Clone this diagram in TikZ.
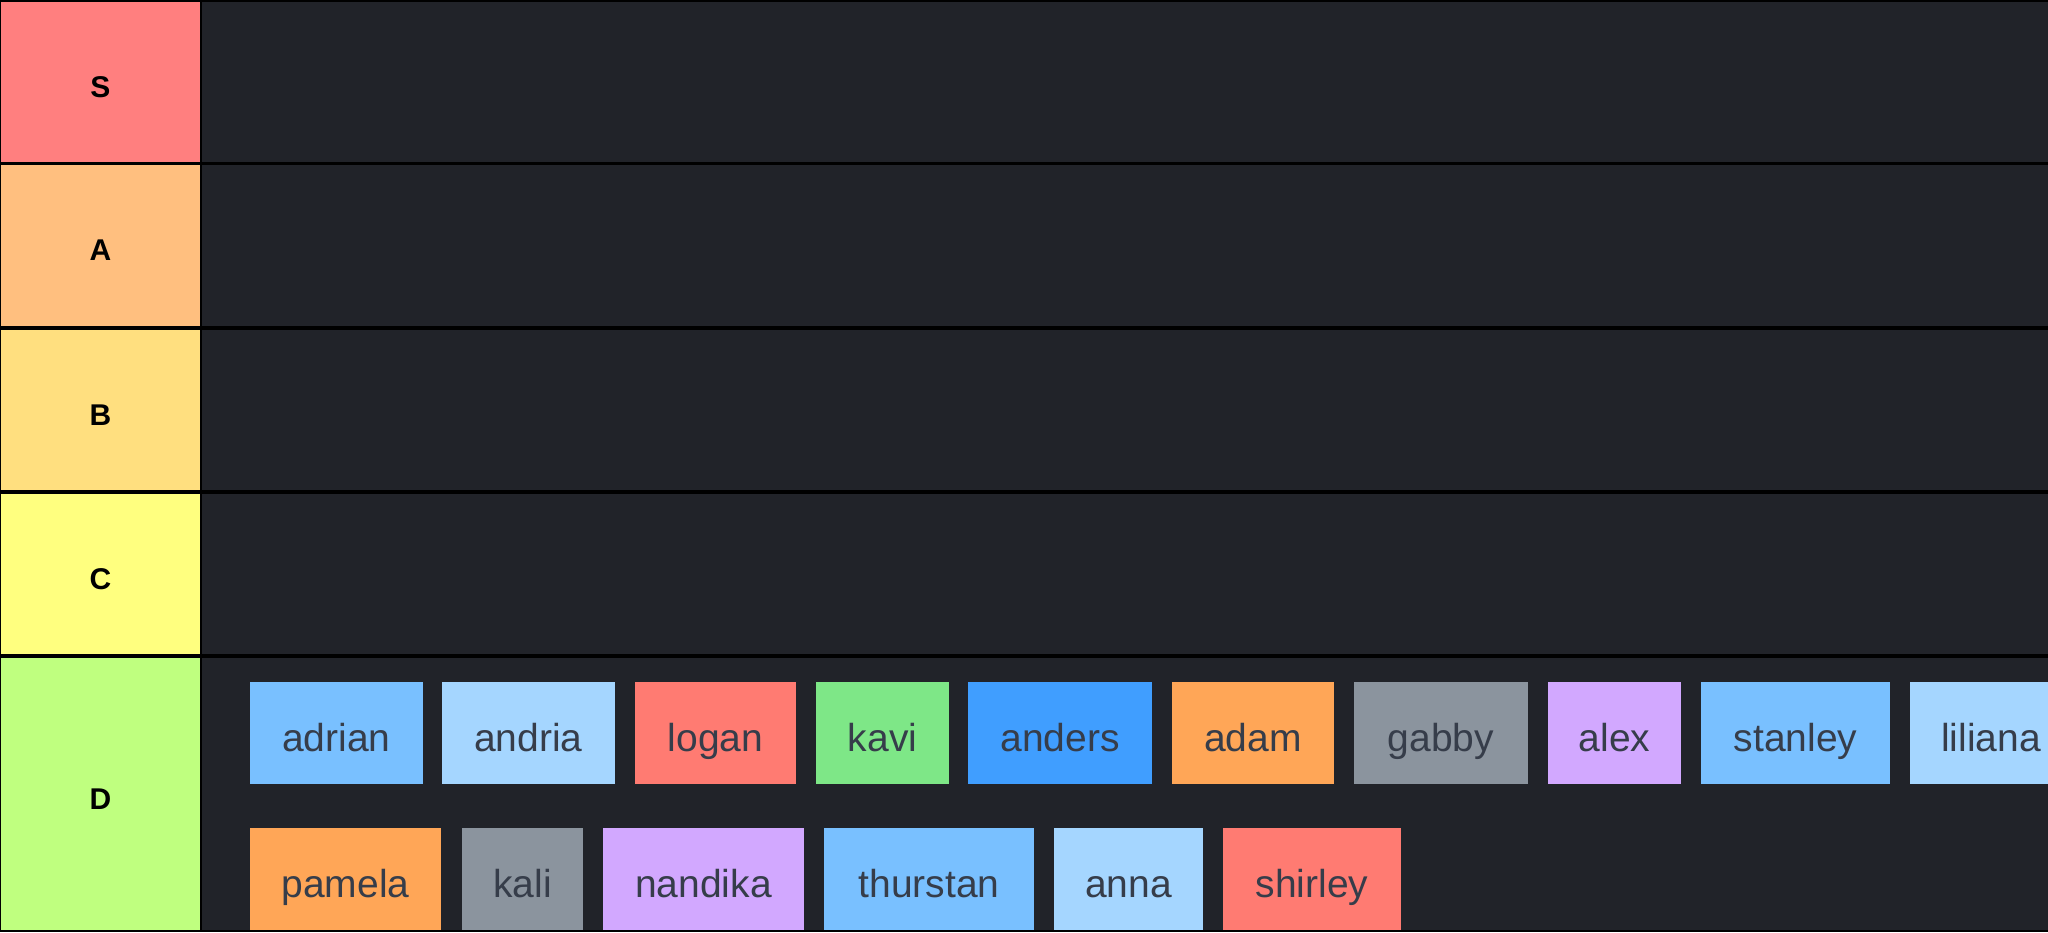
\documentclass[tikz,border=0pt]{standalone}
\usepackage{fontspec}
\setmainfont{Liberation Sans}
\usetikzlibrary{positioning}

\definecolor{tierS}{HTML}{FF7F7F}
\definecolor{tierA}{HTML}{FFBF7F}
\definecolor{tierB}{HTML}{FFDF7F}
\definecolor{tierC}{HTML}{FFFF7F}
\definecolor{tierD}{HTML}{BFFF7F}
\definecolor{rowbg}{HTML}{212329}
\definecolor{chiptext}{HTML}{363D4A}
\definecolor{chipblue}{HTML}{79C0FF}
\definecolor{chiplight}{HTML}{A5D6FF}
\definecolor{chipred}{HTML}{FF7B72}
\definecolor{chipgreen}{HTML}{7EE787}
\definecolor{chipdeep}{HTML}{409EFF}
\definecolor{chiporange}{HTML}{FFA657}
\definecolor{chipgray}{HTML}{8B949E}
\definecolor{chippurple}{HTML}{D2A8FF}

\begin{document}
\begin{tikzpicture}[x=1pt, y=-1pt,
      tierlabel/.style={minimum width=199pt, inner sep=0pt,
        text height=30pt, text depth=0pt,
        font=\fontsize{30}{31}\selectfont\bfseries, text=black},
      row/.style={fill=rowbg},
      chip/.style={minimum height=102pt, inner sep=0pt,
        text height=36pt, text depth=0pt,
        font=\fontsize{39}{40}\selectfont, text=chiptext}
    ]
    \clip (0,0) rectangle (2048,932);
    \fill[black] (0,0) rectangle (2048,932);

    % tier labels
    \node [tierlabel, fill=tierS, minimum height=160pt] (S) at (100.5, 82) {S};
    \node [tierlabel, fill=tierA, minimum height=161pt] (A) at (100.5, 245.5) {A};
    \node [tierlabel, fill=tierB, minimum height=160pt] (B) at (100.5, 410) {B};
    \node [tierlabel, fill=tierC, minimum height=160pt] (C) at (100.5, 574) {C};
    \node [tierlabel, fill=tierD, minimum height=272pt] (D) at (100.5, 794) {D};

    % rows
    \fill[row] (202,2) rectangle (2048,162);
    \fill[row] (202,165) rectangle (2048,326);
    \fill[row] (202,330) rectangle (2048,490);
    \fill[row] (202,494) rectangle (2048,654);
    \fill[row] (202,658) rectangle (2048,930);

    % first line of D
    \node [chip, fill=chipblue, minimum width=173pt] (adrian) at (336.5, 733) {adrian};
    \node [chip, fill=chiplight, minimum width=173pt] (andria) at (528.5, 733) {andria};
    \node [chip, fill=chipred, minimum width=161pt] (logan) at (715.5, 733) {logan};
    \node [chip, fill=chipgreen, minimum width=133pt] (kavi) at (882.5, 733) {kavi};
    \node [chip, fill=chipdeep, minimum width=184pt] (anders) at (1060, 733) {anders};
    \node [chip, fill=chiporange, minimum width=162pt] (adam) at (1253, 733) {adam};
    \node [chip, fill=chipgray, minimum width=174pt] (gabby) at (1441, 733) {gabby};
    \node [chip, fill=chippurple, minimum width=133pt] (alex) at (1614.5, 733) {alex};
    \node [chip, fill=chipblue, minimum width=189pt] (stanley) at (1795.5, 733) {stanley};
    \node [chip, fill=chiplight, minimum width=162pt] (liliana) at (1991, 733) {liliana};

    % second line of D
    \node [chip, fill=chiporange, minimum width=191pt] (pamela) at (345.5, 879) {pamela};
    \node [chip, fill=chipgray, minimum width=121pt] (kali) at (522.5, 879) {kali};
    \node [chip, fill=chippurple, minimum width=201pt] (nandika) at (703.5, 879) {nandika};
    \node [chip, fill=chipblue, minimum width=210pt] (thurstan) at (929, 879) {thurstan};
    \node [chip, fill=chiplight, minimum width=149pt] (anna) at (1128.5, 879) {anna};
    \node [chip, fill=chipred, minimum width=178pt] (shirley) at (1312, 879) {shirley};

\end{tikzpicture}
\end{document}
